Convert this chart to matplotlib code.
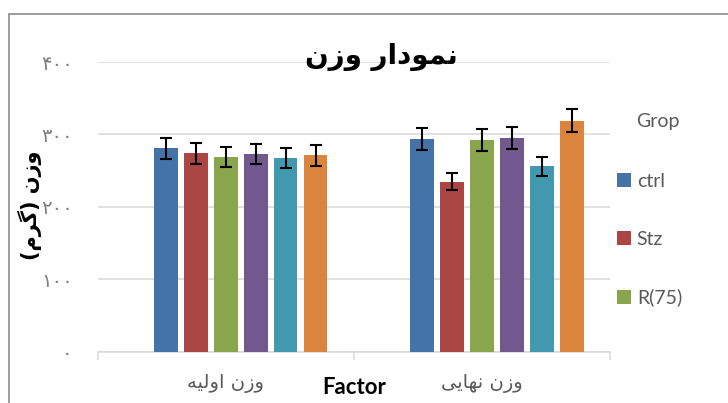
import matplotlib
matplotlib.use("Agg")
import matplotlib.pyplot as plt
import numpy as np
from matplotlib.patches import Rectangle
from matplotlib.ticker import FixedLocator

# ---- data ----
categories = ["\uFEEA\uFBFF\uFEDF\uFEED\uFE8D \uFEE5\uFEAF\uFEED",   # وزن اولیه (visual order, shaped)
              "\uFBFD\uFBFE\uFE8E\uFEEC\uFEE7 \uFEE5\uFEAF\uFEED"]   # وزن نهایی
series_names = ["ctrl", "Stz", "R(75)", "S4", "S5", "S6"]
values = {
    "ctrl":  [281, 294],
    "Stz":   [274, 235],
    "R(75)": [269, 292],
    "S4":    [273, 295],
    "S5":    [267, 256],
    "S6":    [271, 319],
}
errors = {
    "ctrl":  [14.5, 15],
    "Stz":   [14.5, 12],
    "R(75)": [14, 15],
    "S4":    [14, 15],
    "S5":    [14, 13],
    "S6":    [14, 16],
}
ytick_values = [0, 100, 200, 300, 400]
ytick_labels = ["\u06F0", "\u06F1\u06F0\u06F0", "\u06F2\u06F0\u06F0", "\u06F3\u06F0\u06F0", "\u06F4\u06F0\u06F0"]
title = "\uFEE5\uFEAF\uFEED \uFEAD\uFE8D\uFEA9\uFEEE\uFEE4\uFEE7"          # نمودار وزن
ylabel = "(\uFEE1\uFEAE\uFB94) \uFEE5\uFEAF\uFEED"                       # وزن (گرم)
xlabel = "Factor"
legend_title = "Grop"

colors = ["#4572A7", "#AA4643", "#89A54E", "#71588F", "#4198AF", "#DB843D"]

W, H = 728, 403
fig = plt.figure(figsize=(W / 100, H / 100), dpi=100)
ax = fig.add_axes([97.7 / W, 1 - 351.7 / H, (610 - 97.7) / W, (351.7 - 62) / H])

pitch = 0.117
bw = 0.092
x = np.arange(len(categories))
bars = []
for i, name in enumerate(series_names):
    b = ax.bar(x + (i - 2) * pitch, values[name], width=bw, color=colors[i],
               yerr=errors[name], zorder=3,
               error_kw=dict(ecolor="black", elinewidth=1.5, capsize=4.3, capthick=1.5, zorder=4))
    bars.append(b)

ax.set_xlim(-0.5, 1.5)
ax.set_ylim(0, 400)
ax.set_yticks(ytick_values)
ax.set_yticklabels(ytick_labels, family=["DejaVu Sans"], fontsize=14, color="#7F7F7F")
ax.tick_params(axis="y", length=0, pad=18)
ax.yaxis.grid(True, color="#D9D9D9", linewidth=1.1, zorder=0)
ax.set_axisbelow(True)

ax.set_xticks(x)
ax.set_xticklabels(categories, family=["DejaVu Sans"], fontsize=14, color="#595959")
ax.tick_params(axis="x", which="major", length=0, pad=16)
ax.xaxis.set_minor_locator(FixedLocator([-0.5, 0.5, 1.5]))
ax.tick_params(axis="x", which="minor", length=5.5, width=1.1, color="#D9D9D9")

for s in ["left", "right", "top"]:
    ax.spines[s].set_visible(False)
ax.spines["bottom"].set_color("#D9D9D9")
ax.spines["bottom"].set_linewidth(1.1)

fig.text(381 / W, 1 - 57 / H, title, ha="center", va="center",
         family=["DejaVu Sans"], fontweight="bold", fontsize=20, color="black")
fig.text(30 / W, 1 - 205 / H, ylabel, ha="center", va="center", rotation=90,
         family=["DejaVu Sans"], fontweight="bold", fontsize=15, color="black")
fig.text(354 / W, 1 - 388 / H, xlabel, ha="center", va="center",
         family=["Lato", "DejaVu Sans"], fontweight="bold", fontsize=16, color="black")

fig.text(636 / W, 1 - 122 / H, legend_title, ha="left", va="center",
         family=["Lato", "DejaVu Sans"], fontsize=14, color="#595959")
leg = fig.legend([b for b in bars[:3]], series_names[:3], loc="upper left",
                 bbox_to_anchor=(617 / W, 1 - 173 / H), frameon=False,
                 prop={"family": ["Lato", "DejaVu Sans"], "size": 14},
                 labelcolor="#595959", handlelength=0.72, handleheight=0.72,
                 handletextpad=0.3, labelspacing=2.1, borderpad=0, borderaxespad=0)

fig.patches.append(Rectangle((9 / W, -0.2), 1.5, (1 - 14 / H) + 0.2, transform=fig.transFigure,
                             fill=False, edgecolor="#8C8C8C", linewidth=1.2, zorder=10))

fig.savefig("out.png", dpi=100)
